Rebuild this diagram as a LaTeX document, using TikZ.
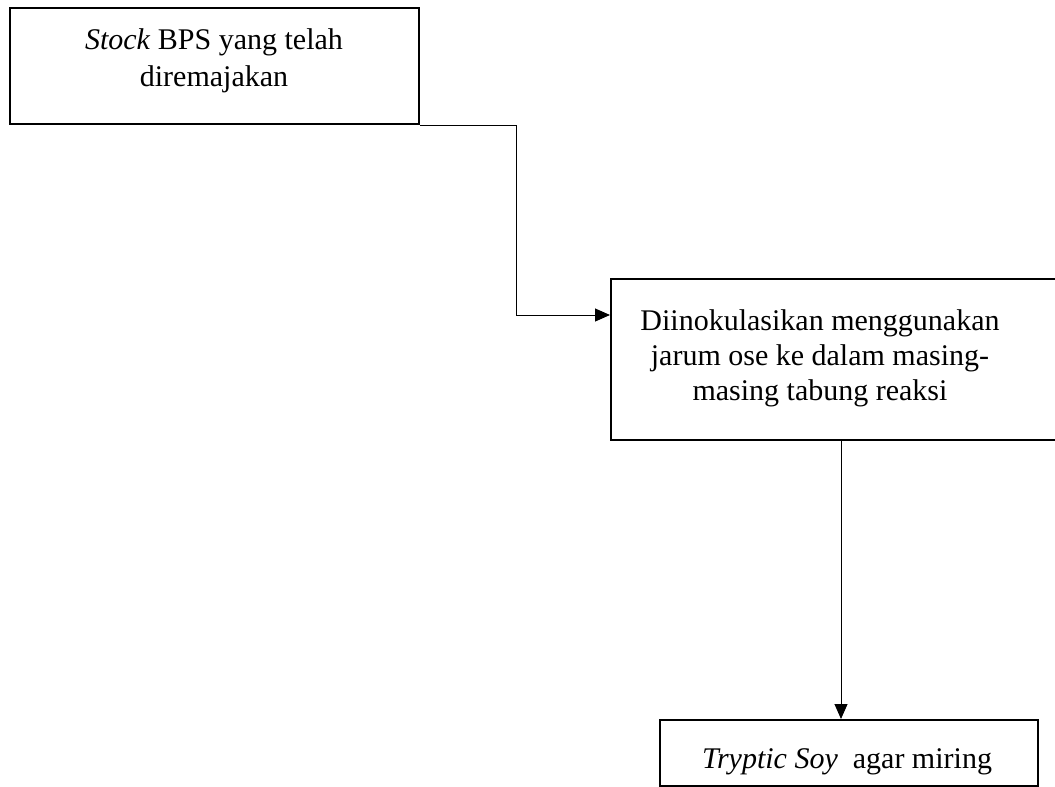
\documentclass[tikz,border=0pt]{standalone}
\usepackage{fontspec}
\setmainfont{Liberation Serif}
\usetikzlibrary{arrows.meta}
\tikzset{
	stepbox/.style={draw, line width=2pt, rectangle, inner sep=0pt},
	steptext/.style={align=center, inner sep=0pt, font=\fontsize{30}{37}\selectfont},
	conn/.style={line width=1pt, -{Triangle[length=15pt,width=13pt]}}
}

\begin{document}
\begin{tikzpicture}[x=1pt, y=-1pt]
			%%%%% START %%%%%
			\useasboundingbox (0, 0) rectangle (1055, 787);
			
			\node[stepbox, minimum width=409, minimum height=116] (stock) at (214.5, 66) {};
			\node[steptext] (stocktext) at (214, 60.5) {\textit{Stock} BPS yang telah\\diremajakan};
			
			\node[stepbox, minimum width=464, minimum height=161] (inok) at (843, 359.5) {};
			\node[steptext, font=\fontsize{30}{35}\selectfont] (inoktext) at (820, 358) {Diinokulasikan menggunakan\\jarum ose ke dalam masing-\\masing tabung reaksi};
			
			\node[stepbox, minimum width=378, minimum height=66] (soy) at (849, 753) {};
			\node[steptext] (soytext) at (847, 762) {\textit{Tryptic Soy}\ \ agar miring};
			
			\coordinate (bend) at (516, 315);
			\draw[conn] (stock.south east) -| (bend) -- (bend -| inok.west);
			\draw[conn] (inok.south -| 841, 0) -- (soy.north -| 841, 0);
			
			%%%%% END %%%%%
		\end{tikzpicture}
\end{document}
